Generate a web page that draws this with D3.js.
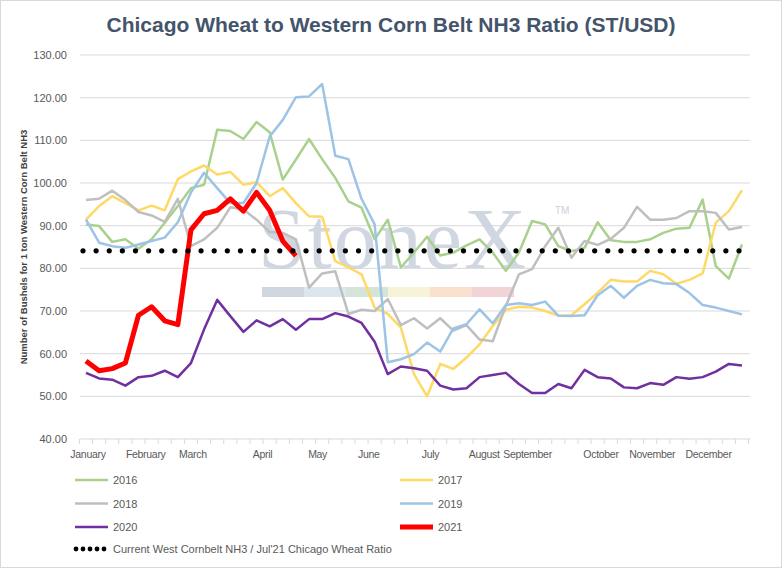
<!DOCTYPE html>
<html><head><meta charset="utf-8">
<script src="https://cdn.jsdelivr.net/npm/d3@7"></script>
<style>body{margin:0;background:#fff}text{font-family:"Liberation Sans",Arial,sans-serif}</style>
</head><body><svg id="chart" width="782" height="568"></svg>
<script>
// weekly ratios, 51 weeks per year
var y2016=[90.3,89.9,86.2,86.8,84.6,86.8,90.7,94.6,98.8,99.6,112.5,112.2,110.3,114.3,111.9,100.8,105.5,110.3,105.6,101.2,95.7,94.2,86.8,91.4,80.2,83.7,87.4,83,83.7,85.4,86.8,83.7,79.4,83.7,91.1,90.3,85.2,84,84.8,90.8,86.6,86.2,86.2,86.8,88.3,89.3,89.5,96.1,80.5,77.6,85.6];
var y2017=[91.4,94.6,96.9,95.3,93.6,94.7,93.6,100.9,102.7,104.1,102,102.6,99.6,100.2,96.9,98.8,95.3,92.2,92.1,81.7,80.2,78.6,70.8,69.3,66.1,55.2,50,57.6,56.4,59.1,62.2,66.5,70.3,71,70.8,70,68.9,69,71.6,74.3,77.3,76.9,76.9,79.4,78.6,76.4,77.3,78.8,90.7,93.4,98.3];
var y2018=[96,96.3,98.2,96,93.2,92.4,90.9,96.3,85.2,86.8,89.5,94.3,93.8,91.4,88.5,88.3,86.8,75.5,78.8,79.3,69.3,70.3,70,72.8,66.7,68.3,65.9,68.3,65.4,66.7,63.3,62.9,71.2,78.6,79.8,85.2,89.5,82.5,86.4,85.5,86.9,89.5,94.4,91.4,91.4,91.8,93.4,93.4,93,89.1,89.7];
var y2019=[91.4,86,85.2,84.8,85.6,86.4,87.2,90.8,97.8,102.4,98.8,95.3,95.3,100,110.9,114.8,120.1,120.3,123.2,106.4,105.6,96.3,90.3,58,58.7,59.9,62.6,60.5,65.9,66.9,70.4,67.1,71.4,71.8,71.4,72.2,68.9,68.8,69,73.7,75.9,73.1,75.9,77.3,76.5,76.3,74.2,71.4,70.8,70,69.2];
var y2020=[55.5,54.2,53.9,52.5,54.5,54.8,56,54.5,57.8,65.7,72.6,68.8,65.1,67.8,66.4,68.1,65.6,68.1,68.1,69.5,68.7,67.2,62.8,55.2,57,56.6,56,52.5,51.6,51.9,54.5,55,55.5,52.9,50.8,50.8,52.9,51.9,56.2,54.5,54.2,52.1,51.9,53.1,52.7,54.5,54.1,54.5,55.8,57.6,57.2];
var y2021=[58.3,56,56.5,57.8,69,71,67.7,66.8,89,92.8,93.6,96.3,93.4,97.8,93.6,86.4,82.9];
var currentRatio=84.1;
var monthLabels=["January","February","March","April","May","June","July","August","September","October","November","December"];
var monthWeek=[0,4.4,8,13.3,17.5,21.4,26.1,30.2,33.5,39.1,43,47.3];
var yTicks=[40,50,60,70,80,90,100,110,120,130];

var series=[
  {name:"2016",vals:y2016,color:"#a9d18e",w:2.5},
  {name:"2017",vals:y2017,color:"#ffd966",w:2.5},
  {name:"2018",vals:y2018,color:"#bfbfbf",w:2.5},
  {name:"2019",vals:y2019,color:"#9dc3e6",w:2.5},
  {name:"2020",vals:y2020,color:"#7030a0",w:2.5},
  {name:"2021",vals:y2021,color:"#ff0000",w:5}
];

var svg=d3.select("#chart");
svg.append("rect").attr("x",0.5).attr("y",0.5).attr("width",781).attr("height",567).attr("fill","#fff").attr("stroke","#d9d9d9");

var x=d3.scaleLinear().domain([0,50]).range([86,742]);
var y=d3.scaleLinear().domain([40,130]).range([439,55]);

// gridlines
svg.append("g").selectAll("line").data(yTicks).join("line")
  .attr("x1",80).attr("x2",750).attr("y1",d=>y(d)).attr("y2",d=>y(d))
  .attr("stroke","#d9d9d9").attr("stroke-width",1);
svg.append("g").selectAll("text").data(yTicks).join("text")
  .attr("x",67).attr("y",d=>y(d)+4).attr("text-anchor","end")
  .attr("font-size",11).attr("fill","#595959").text(d=>d.toFixed(2));

// week tick marks
svg.append("g").selectAll("line").data(d3.range(52)).join("line")
  .attr("x1",d=>x(d-0.5)).attr("x2",d=>x(d-0.5)).attr("y1",439).attr("y2",444)
  .attr("stroke","#d9d9d9");
svg.append("g").selectAll("text").data(monthLabels).join("text")
  .attr("x",(d,i)=>x(monthWeek[i])+2).attr("y",458).attr("text-anchor","middle")
  .attr("font-size",10.5).attr("letter-spacing",-0.3).attr("fill","#595959").text(d=>d);

// watermark
svg.append("text").attr("x",258).attr("y",268).style("font-family","'Liberation Serif',serif")
  .attr("font-size",86).attr("fill","#c9d1dc").attr("opacity",0.85).attr("letter-spacing",2).text("StoneX");
svg.append("text").attr("x",555).attr("y",214).attr("font-size",10).attr("fill","#c9d1dc").text("TM");
var wmColors=["#cfd6de","#dbe6ef","#d5e4d8","#f6f3d8","#f8e2cf","#f3d4d6"];
svg.append("g").selectAll("rect").data(wmColors).join("rect")
  .attr("x",(d,i)=>262+i*42).attr("y",287).attr("width",42).attr("height",10).attr("fill",d=>d);

var line=d3.line().x((d,i)=>x(i)).y(d=>y(d));
series.forEach(s=>{
  svg.append("path").datum(s.vals).attr("d",line).attr("fill","none")
    .attr("stroke",s.color).attr("stroke-width",s.w).attr("stroke-linejoin","round");
});
// reference dots
svg.append("g").selectAll("circle").data(d3.range(0,51,1)).join("circle")
  .attr("cx",d=>x(d)-3).attr("cy",y(currentRatio)).attr("r",2.6).attr("fill","#000");

// title and axis label
svg.append("text").attr("x",391).attr("y",32).attr("text-anchor","middle")
  .attr("font-size",21).attr("font-weight","bold").attr("fill","#44546a")
  .text("Chicago Wheat to Western Corn Belt NH3 Ratio (ST/USD)");
svg.append("text").attr("transform","translate(27,247) rotate(-90)").attr("text-anchor","middle")
  .attr("font-size",9.5).attr("font-weight","bold").attr("fill","#404040")
  .text("Number of Bushels for 1 ton Western Corn Belt NH3");

// legend
var leg=svg.append("g");
series.forEach((s,i)=>{
  var lx=i%2===0?75:400, ly=480+Math.floor(i/2)*23.5;
  leg.append("line").attr("x1",lx).attr("x2",lx+33).attr("y1",ly).attr("y2",ly)
    .attr("stroke",s.color).attr("stroke-width",s.w);
  leg.append("text").attr("x",lx+38).attr("y",ly+4).attr("font-size",11).attr("fill","#595959").text(s.name);
});
leg.selectAll("circle").data(d3.range(5)).join("circle")
  .attr("cx",d=>76+d*7).attr("cy",549).attr("r",2.4).attr("fill","#000");
leg.append("text").attr("x",113).attr("y",553).attr("font-size",11).attr("fill","#595959")
  .text("Current West Cornbelt NH3 / Jul'21 Chicago Wheat Ratio");
</script></body></html>
